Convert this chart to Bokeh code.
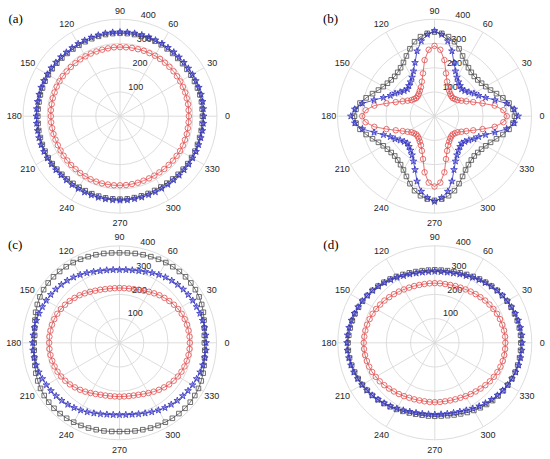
import numpy as np
from bokeh.plotting import figure
from bokeh.layouts import gridplot
from bokeh.models import Range1d
from bokeh.embed import file_html
from bokeh.resources import INLINE
from bokeh.core.properties import value

# ---------------- data ----------------
theta_deg = list(range(0, 360, 5))
r_ticks = [100, 200, 300, 400]
theta_ticks = [0, 30, 60, 90, 120, 150, 180, 210, 240, 270, 300, 330]
panel_labels = ["(a)", "(b)", "(c)", "(d)"]

a_red = [284, 284, 285, 285, 286, 286, 287, 287, 288, 288, 288, 288, 288, 287, 287, 286, 286, 285,
         285, 285, 284, 284, 284, 285, 285, 286, 286, 287, 287, 288, 288, 288, 287, 287, 286, 286,
         285, 285, 284, 284, 283, 283, 283, 284, 284, 285, 285, 286, 286, 287, 287, 287, 286, 286,
         285, 285, 284, 284, 283, 283, 283, 283, 284, 284, 285, 285, 286, 286, 285, 285, 284, 284]
a_black = [340, 340, 341, 341, 340, 339, 338, 337, 337, 337, 338, 339, 340, 341, 342, 342, 342, 342,
           342, 342, 342, 341, 340, 339, 338, 338, 338, 339, 340, 341, 341, 341, 340, 340, 339, 339,
           339, 339, 340, 340, 341, 341, 342, 341, 340, 339, 338, 338, 338, 339, 340, 341, 342, 342,
           342, 342, 341, 340, 339, 338, 337, 337, 338, 339, 340, 341, 341, 341, 340, 340, 340, 340]
a_blue = [345, 345, 346, 346, 346, 345, 345, 344, 344, 344, 345, 345, 346, 346, 347, 347, 347, 347,
          347, 347, 347, 346, 346, 345, 345, 344, 344, 345, 345, 346, 346, 346, 346, 345, 345, 345,
          345, 345, 345, 346, 346, 346, 346, 345, 345, 344, 344, 345, 345, 346, 346, 347, 347, 347,
          347, 347, 346, 346, 345, 345, 344, 344, 344, 345, 345, 346, 346, 346, 345, 345, 345, 345]

b_red = [298, 285, 252, 205, 170, 145, 128, 116, 110, 106, 108, 113, 121, 132, 152, 183, 235, 275,
         290, 275, 235, 183, 152, 132, 121, 113, 108, 106, 110, 116, 128, 145, 170, 205, 252, 285,
         298, 285, 252, 205, 170, 145, 128, 116, 110, 106, 108, 113, 121, 132, 152, 183, 235, 275,
         290, 275, 235, 183, 152, 132, 121, 113, 108, 106, 110, 116, 128, 145, 170, 205, 252, 285]
b_black = [330, 325, 312, 292, 272, 255, 244, 237, 233, 232, 236, 244, 256, 274, 296, 318, 333, 343,
           347, 343, 333, 318, 296, 274, 256, 244, 236, 232, 233, 237, 244, 255, 272, 292, 312, 325,
           330, 325, 312, 292, 272, 255, 244, 237, 233, 232, 236, 244, 256, 274, 296, 318, 333, 343,
           347, 343, 333, 318, 296, 274, 256, 244, 236, 232, 233, 237, 244, 255, 272, 292, 312, 325]
b_blue = [345, 330, 302, 258, 224, 201, 188, 173, 163, 158, 164, 172, 185, 205, 235, 278, 315, 338,
          352, 338, 315, 278, 235, 205, 185, 172, 164, 158, 163, 173, 188, 201, 224, 258, 302, 330,
          345, 330, 302, 258, 224, 201, 188, 173, 163, 158, 164, 172, 185, 205, 235, 278, 315, 338,
          352, 338, 315, 278, 235, 205, 185, 172, 164, 158, 163, 173, 188, 201, 224, 258, 302, 330]

c_red = [290, 290, 289, 288, 286, 283, 279, 274, 268, 262, 256, 249, 243, 237, 233, 229, 227, 226,
         226, 226, 227, 229, 233, 237, 243, 249, 256, 262, 268, 274, 279, 283, 286, 288, 289, 290,
         290, 290, 289, 287, 285, 282, 278, 273, 267, 260, 253, 246, 239, 233, 228, 225, 223, 222,
         222, 222, 223, 225, 228, 233, 239, 246, 253, 260, 267, 273, 278, 282, 285, 287, 289, 290]
c_black = [350, 351, 355, 361, 368, 374, 379, 382, 384, 385, 384, 383, 382, 380, 378, 376, 374, 372,
           371, 372, 374, 376, 378, 380, 382, 383, 384, 385, 384, 382, 379, 374, 368, 361, 355, 351,
           352, 353, 356, 361, 367, 372, 376, 379, 381, 382, 381, 380, 378, 376, 374, 371, 369, 367,
           366, 367, 369, 371, 374, 376, 378, 380, 381, 382, 381, 379, 376, 372, 367, 361, 356, 353]
c_blue = [357, 357, 356, 355, 353, 351, 349, 346, 343, 339, 335, 330, 324, 318, 312, 307, 304, 302,
          301, 302, 304, 307, 312, 318, 324, 330, 335, 339, 343, 346, 349, 351, 353, 355, 356, 357,
          358, 358, 357, 356, 354, 351, 348, 345, 341, 337, 332, 327, 321, 315, 309, 304, 300, 298,
          297, 298, 300, 304, 309, 315, 321, 327, 332, 337, 341, 345, 348, 351, 354, 356, 357, 358]

d_red = [291, 291, 290, 288, 286, 283, 279, 275, 271, 266, 262, 258, 254, 251, 249, 247, 246, 246,
         246, 246, 246, 247, 249, 251, 254, 258, 262, 266, 271, 275, 279, 283, 286, 289, 291, 292,
         293, 293, 292, 290, 288, 285, 281, 277, 272, 267, 262, 258, 254, 250, 248, 246, 245, 245,
         245, 245, 245, 246, 248, 250, 254, 258, 262, 267, 272, 277, 281, 285, 288, 290, 291, 291]
d_black = [355, 355, 354, 352, 350, 347, 344, 340, 336, 331, 326, 321, 316, 311, 307, 304, 302, 301,
           301, 301, 302, 304, 307, 311, 316, 321, 326, 331, 336, 340, 344, 347, 350, 352, 354, 356,
           358, 358, 357, 355, 352, 349, 345, 341, 337, 332, 327, 322, 317, 312, 308, 305, 303, 303,
           303, 303, 305, 308, 312, 317, 322, 327, 332, 337, 341, 345, 348, 351, 353, 354, 355, 355]
d_blue = [360, 360, 358, 356, 353, 349, 345, 340, 335, 329, 323, 317, 311, 305, 301, 297, 295, 294,
          294, 294, 295, 297, 301, 305, 311, 317, 323, 329, 335, 340, 345, 349, 353, 356, 359, 361,
          362, 362, 360, 358, 355, 351, 347, 342, 337, 331, 325, 319, 313, 307, 302, 299, 297, 296,
          296, 296, 297, 299, 302, 307, 313, 319, 325, 331, 337, 342, 347, 351, 355, 358, 359, 360]

# ---------------- styling / layout ----------------
PX = 0.2425          # pixels per radial unit
U = 1.0 / PX         # radial units per pixel
GRID = "#d9d9d9"
TXT = "#262626"
RED = "#e24c4c"
BLK = "#4d4d4d"
BLU = "#3434c4"
SANS = "Liberation Sans"
SERIF = "Liberation Serif"

W = [275, 275]
H = [229, 230]
CENTERS = {(0, 0): (119.5, 115.7), (0, 1): (159.0, 115.7),
           (1, 0): (119.0, 113.3), (1, 1): (159.3, 113.3)}
LABEL_R = {0: 107.5, 90: 105.5, 180: 105.7, 270: 107.0}


def to_xy(theta_list, r_list, close=False):
    th = np.deg2rad(np.array(theta_list, dtype=float))
    r = np.array(r_list, dtype=float)
    if close:
        th = np.append(th, th[0])
        r = np.append(r, r[0])
    return r * np.cos(th), r * np.sin(th)


def make_panel(label, red, black, blue, w, h, cx, cy):
    p = figure(width=w, height=h,
               x_range=Range1d(-cx * U, (w - cx) * U),
               y_range=Range1d(-(h - cy) * U, cy * U),
               output_backend="svg", toolbar_location=None,
               x_axis_location=None, y_axis_location=None,
               min_border=0, outline_line_color=None,
               background_fill_color="white", border_fill_color="white")
    p.grid.visible = False

    # grid rings and spokes
    for r in r_ticks:
        p.circle(x=[0], y=[0], radius=r, fill_color=None, line_color=GRID, line_width=0.9)
    t = np.deg2rad(np.array(theta_ticks, dtype=float))
    rmax = max(r_ticks)
    p.segment(x0=np.zeros(len(t)), y0=np.zeros(len(t)),
              x1=rmax * np.cos(t), y1=rmax * np.sin(t), line_color=GRID, line_width=0.9)

    # radial tick labels at 80 degrees
    a80 = np.deg2rad(80)
    rt = np.array(r_ticks, dtype=float)
    p.text(x=rt * np.cos(a80) + 4 * U, y=rt * np.sin(a80) + 5.5 * U,
           text=[str(v) for v in r_ticks], text_align="left", text_baseline="middle",
           text_font=value(SANS), text_font_size="9px", text_color=TXT)

    # angular tick labels
    lr = np.array([LABEL_R.get(a, 106.5) for a in theta_ticks]) * U
    p.text(x=lr * np.cos(t), y=lr * np.sin(t), text=[str(a) for a in theta_ticks],
           text_align="center", text_baseline="middle",
           text_font=value(SANS), text_font_size="9px", text_color=TXT)

    # series
    x, y = to_xy(theta_deg, red, close=True)
    p.line(x, y, line_color=RED, line_width=0.8)
    x, y = to_xy(theta_deg, red)
    p.scatter(x, y, marker="circle", size=5.5, fill_color=None, line_color=RED, line_width=0.8)

    x, y = to_xy(theta_deg, black, close=True)
    p.line(x, y, line_color=BLK, line_width=0.8)
    x, y = to_xy(theta_deg, black)
    p.scatter(x, y, marker="square", size=4.6, fill_color=None, line_color=BLK, line_width=0.8)

    x, y = to_xy(theta_deg, blue, close=True)
    p.line(x, y, line_color=BLU, line_width=0.8)
    x, y = to_xy(theta_deg, blue)
    p.scatter(x, y, marker="star", size=7, fill_color=BLU, fill_alpha=0.35,
              line_color=BLU, line_width=0.8)

    # panel letter
    p.text(x=[-111.5 * U], y=[98 * U], text=[label], text_align="left", text_baseline="middle",
           text_font=value(SERIF), text_font_size="13px", text_color="black")
    return p


series = [(a_red, a_black, a_blue), (b_red, b_black, b_blue),
          (c_red, c_black, c_blue), (d_red, d_black, d_blue)]
figs = []
for i, (lab, (rr, bk, bl)) in enumerate(zip(panel_labels, series)):
    row, col = divmod(i, 2)
    cx, cy = CENTERS[(row, col)]
    figs.append(make_panel(lab, rr, bk, bl, W[col], H[row], cx, cy))

grid = gridplot([[figs[0], figs[1]], [figs[2], figs[3]]], toolbar_location=None)

with open("out.html", "w") as f:
    f.write(file_html(grid, INLINE))
